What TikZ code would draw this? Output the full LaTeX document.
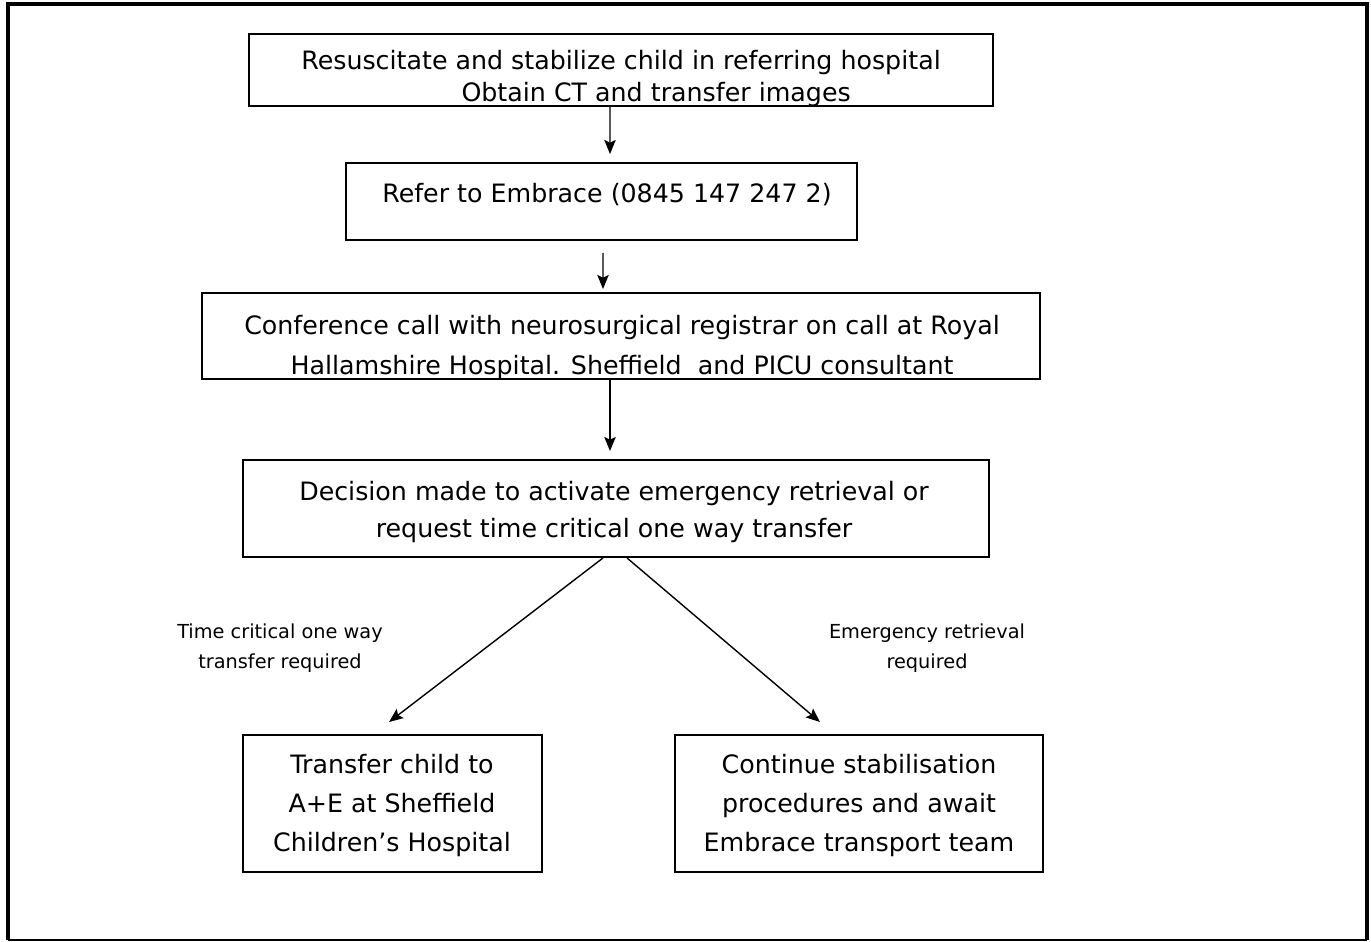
\documentclass[tikz,border=0pt]{standalone}
\usepackage{fontspec}
\setmainfont{DejaVu Sans}
\usetikzlibrary{arrows.meta,calc}

\begin{document}
\begin{tikzpicture}[x=0.02cm,y=-0.02cm,
  box/.style={draw,line width=1.1pt,inner sep=0pt},
  txt/.style={align=center,anchor=base,inner sep=0pt,font=\fontsize{14.4}{21}\selectfont},
  lbl/.style={align=center,anchor=base,inner sep=0pt,font=\fontsize{11}{17}\selectfont},
  ar/.style={-{Stealth[length=8pt,width=6.5pt,inset=1.5pt]},line width=0.8pt}
]
\useasboundingbox (0,0) rectangle (1371,942);
% page frame
\draw[line width=2.3pt] (8,940) -- (8,4) -- (1367,4) -- (1367,940);
\draw[line width=0.8pt] (8,940) -- (1367,940);

% Step 1: stabilize in referring hospital
\node[txt,font=\fontsize{14.4}{18.7}\selectfont] (resustxt) at (621,102) {Resuscitate and stabilize child in referring hospital\\\hspace*{40pt}Obtain CT and transfer images};
\node[box,minimum width=14.88cm,minimum height=1.44cm] (resus) at (621,70) {};

% Step 2: refer
\node[txt] (refertxt) at (607,203) {Refer to Embrace (0845 147 247 2)};
\node[box,minimum width=10.22cm,minimum height=1.54cm] (refer) at (601.5,201.5) {};

% Step 3: conference call
\node[txt,font=\fontsize{14.4}{22.7}\selectfont] (calltxt) at (622,374) {Conference call with neurosurgical registrar on call at Royal\\Hallamshire Hospital. Sheffield\ \ and PICU consultant};
\node[box,minimum width=16.76cm,minimum height=1.72cm] (call) at (621,336) {};

% Step 4: decision
\node[txt] (decidetxt) at (614,537) {Decision made to activate emergency retrieval or\\request time critical one way transfer};
\node[box,minimum width=14.92cm,minimum height=1.94cm] (decide) at (616,508.5) {};

% Outcomes
\node[txt,font=\fontsize{14.4}{22}\selectfont] (transfertxt) at (392,851) {Transfer child to\\A+E at Sheffield\\Children’s Hospital};
\node[box,minimum width=5.98cm,minimum height=2.74cm] (transfer) at (392.5,803.5) {};
\node[txt,font=\fontsize{14.4}{22}\selectfont] (continuetxt) at (859,851) {Continue stabilisation\\procedures and await\\Embrace transport team};
\node[box,minimum width=7.36cm,minimum height=2.74cm] (continue) at (859,803.5) {};

\node[lbl] (oneway) at (280,668) {Time critical one way\\transfer required};
\node[lbl] (retrieval) at (927,668) {Emergency retrieval\\required};

% arrows
\draw[ar] ($(resus.south)+(-11,0)$) -- ($(refer.north)+(8.5,-8)$);
\draw[ar] ($(refer.south)+(1.5,12)$) -- ($(call.north)+(-18,-3)$);
\draw[ar] ($(call.south)+(-11,0)$) -- ($(decide.north)+(-6,-8)$);
\draw[ar] ($(decide.south)+(-13,0)$) -- ($(transfer.north)+(-3.5,-12)$);
\draw[ar] ($(decide.south)+(11,0)$) -- ($(continue.north)+(-39,-12)$);
\end{tikzpicture}
\end{document}
